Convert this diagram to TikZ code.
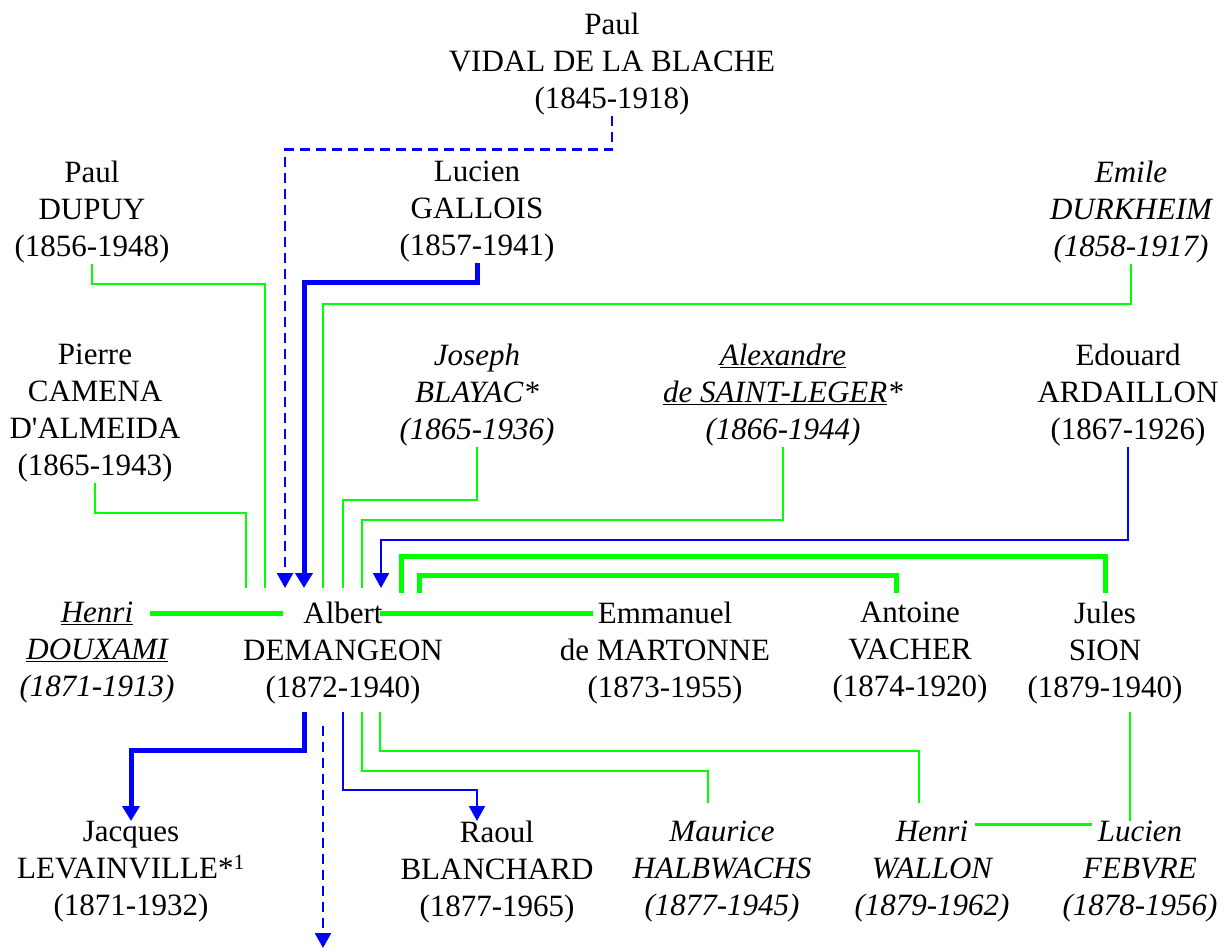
\documentclass[tikz,border=0pt]{standalone}
\usepackage{fontspec}
\setmainfont{Liberation Serif}
\usepackage{tikz}
\usetikzlibrary{arrows.meta}
\definecolor{vert}{RGB}{0,255,0}
\definecolor{bleu}{RGB}{0,0,255}
\tikzset{geo/.style={align=center,anchor=north,inner sep=0pt,font=\fontsize{31}{37}\selectfont}}
\tikzset{geoit/.style={geo,font=\fontsize{31}{37}\selectfont\itshape}}
\tikzset{vfin/.style={draw=vert,line width=2pt}}
\tikzset{vgros/.style={draw=vert,line width=5pt}}
\tikzset{bfin/.style={draw=bleu,line width=2pt,-{Triangle[width=16pt,length=15pt]}}}
\tikzset{bgros/.style={draw=bleu,line width=5pt,-{Triangle[width=17pt,length=15pt]}}}
\tikzset{bpoint/.style={bfin,line width=2.5pt,dash pattern=on 10pt off 6pt}}

\begin{document}
\begin{tikzpicture}[x=1pt,y=-1pt]
\useasboundingbox (0,0) rectangle (1224,952);
\node[geo] (vidal) at (612,13) {Paul\\VIDAL DE LA BLACHE\\(1845-1918)};
\node[geo] (dupuy) at (92,161) {Paul\\DUPUY\\(1856-1948)};
\node[geo] (gallois) at (477,161) {Lucien\\GALLOIS\\(1857-1941)};
\node[geoit] (durkheim) at (1131,161) {Emile\\DURKHEIM\\(1858-1917)};
\node[geo] (camena) at (95,344) {Pierre\\CAMENA\\D\textquotesingle ALMEIDA\\(1865-1943)};
\node[geoit] (blayac) at (477,344) {Joseph\\BLAYAC*\\(1865-1936)};
\node[geoit] (stleger) at (783,344) {\underline{Alexandre}\\\underline{de SAINT-LEGER}*\\(1866-1944)};
\node[geo] (ardaillon) at (1128,344) {Edouard\\ARDAILLON\\(1867-1926)};
\node[geoit] (douxami) at (97,602) {\underline{Henri}\\\underline{DOUXAMI}\\(1871-1913)};
\node[geo] (albert) at (343,602) {Albert\\DEMANGEON\\(1872-1940)};
\node[geo] (martonne) at (665,602) {Emmanuel\\de MARTONNE\\(1873-1955)};
\node[geo] (vacher) at (910,602) {Antoine\\VACHER\\(1874-1920)};
\node[geo] (sion) at (1105,602) {Jules\\SION\\(1879-1940)};
\node[geo] (jacques) at (131,821) {Jacques\\LEVAINVILLE*\textsuperscript{1}\\(1871-1932)};
\node[geo] (raoul) at (497,821) {Raoul\\BLANCHARD\\(1877-1965)};
\node[geoit] (halbwachs) at (722,821) {Maurice\\HALBWACHS\\(1877-1945)};
\node[geoit] (wallon) at (932,821) {Henri\\WALLON\\(1879-1962)};
\node[geoit] (febvre) at (1140,821) {Lucien\\FEBVRE\\(1878-1956)};
\coordinate (suite) at (323,948);
\draw[bpoint] (vidal.south) -- ++(0,34) -| ([xshift=-58,yshift=14]albert.north);
\foreach \n/\dy/\dx in {dupuy/20/-78,durkheim/40/-20,camena/30/-97,blayac/53/0,stleger/73/19}{
\draw[vfin] (\n.south) -- ++(0,\dy) -| ([xshift=\dx,yshift=14]albert.north);
}
\draw[bgros] (gallois.south) -- ++(0,20) -| ([xshift=-39,yshift=14]albert.north);
\draw[bfin] (ardaillon.south) -- ++(0,93) -| ([xshift=38,yshift=14]albert.north);
\draw[vgros] ([xshift=53,yshift=-11]douxami.north) -- ([xshift=-60,yshift=-11]albert.north);
\draw[vgros] ([xshift=37,yshift=-11]albert.north) -- ([xshift=-72,yshift=-11]martonne.north);
\draw[vgros] ([xshift=58,yshift=9]albert.north) -- ++(0,-37) -| ([yshift=9]sion.north);
\draw[vgros] ([xshift=76,yshift=9]albert.north) -- ++(0,-18) -| ([xshift=-14,yshift=9]vacher.north);
\draw[bgros] ([xshift=-39,yshift=-7]albert.south) -- ++(0,39) -| (jacques.north);
\draw[bpoint] ([xshift=-20,yshift=-21]albert.south) -- (suite);
\draw[bfin] ([yshift=-7]albert.south) -- ++(0,78) -| ([xshift=-20]raoul.north);
\draw[vfin] ([xshift=19,yshift=-7]albert.south) -- ++(0,59) -| ([xshift=-14,yshift=18]halbwachs.north);
\draw[vfin] ([xshift=37,yshift=-7]albert.south) -- ++(0,39) -| ([xshift=-13,yshift=18]wallon.north);
\draw[vfin] ([xshift=25,yshift=-7]sion.south) -- ([xshift=-10]febvre.north);
\draw[vfin,line width=3pt] ([xshift=43,yshift=-3]wallon.north) -- ([xshift=-48,yshift=-3]febvre.north);
\end{tikzpicture}
\end{document}
